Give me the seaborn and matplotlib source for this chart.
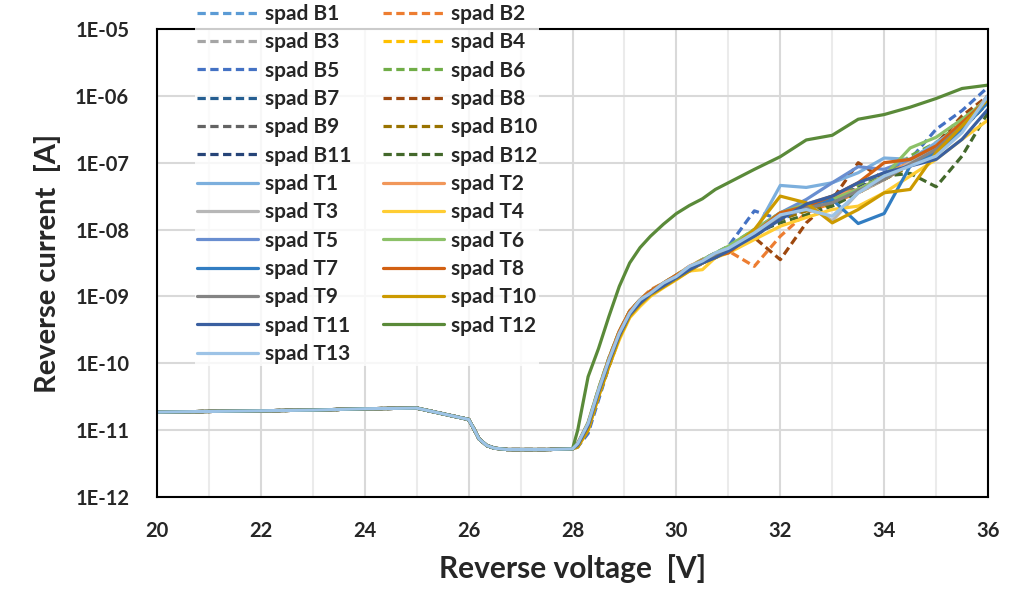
import numpy as np
import pandas as pd
import matplotlib
matplotlib.use("Agg")
import matplotlib.pyplot as plt
import seaborn as sns
from matplotlib.ticker import MultipleLocator, LogLocator, FuncFormatter, NullLocator

sns.set_theme(style="white")
plt.rcParams['font.family'] = ['Lato', 'DejaVu Sans']
plt.rcParams['font.weight'] = 'bold'

# voltage points (V)
V_LOW = [20, 21, 22, 23, 24, 25, 26, 26.1, 26.2, 26.35, 26.5, 26.75, 27, 27.5, 28]
V_HIGH = [28.1, 28.3, 28.5, 28.7, 28.9, 29.1, 29.3, 29.5, 29.75, 30.0, 30.25, 30.5,
          30.75, 31.0, 31.5, 32.0, 32.5, 33.0, 33.5, 34.0, 34.5, 35.0, 35.5, 36.0]

# log10 of reverse current [A]; all devices share the same leakage below breakdown
LOW_LOG = [-10.73, -10.72, -10.71, -10.70, -10.68, -10.67, -10.84, -10.98, -11.13,
           -11.23, -11.27, -11.29, -11.29, -11.29, -11.28]

spad_B1 = [-11.22, -10.95, -10.45, -10.0, -9.6, -9.28, -9.1, -8.95, -8.82, -8.7, -8.58, -8.47, -8.38, -8.28, -8.0, -7.75, -7.65, -7.55, -7.38, -7.2, -6.98, -6.72, -6.4, -6.05]
spad_B2 = [-11.2, -10.9, -10.4, -9.95, -9.55, -9.22, -9.05, -8.9, -8.8, -8.68, -8.55, -8.45, -8.35, -8.32, -8.55, -8.1, -7.75, -7.6, -7.45, -7.25, -7.02, -6.78, -6.42, -6.05]
spad_B3 = [-11.22, -10.95, -10.45, -10.0, -9.58, -9.28, -9.1, -8.97, -8.84, -8.72, -8.6, -8.5, -8.4, -8.3, -8.08, -7.85, -7.7, -7.58, -7.38, -7.2, -6.95, -6.75, -6.42, -6.0]
spad_B4 = [-11.25, -11.0, -10.5, -10.05, -9.62, -9.3, -9.12, -8.98, -8.85, -8.72, -8.6, -8.48, -8.42, -8.32, -8.1, -7.82, -7.72, -7.62, -7.42, -7.25, -7.05, -6.8, -6.5, -6.1]
spad_B5 = [-11.25, -11.05, -10.55, -10.05, -9.6, -9.3, -9.1, -8.95, -8.82, -8.7, -8.58, -8.45, -8.35, -8.25, -7.72, -7.85, -7.7, -7.55, -7.35, -7.15, -6.95, -6.5, -6.22, -5.87]
spad_B6 = [-11.2, -10.9, -10.38, -9.92, -9.52, -9.22, -9.05, -8.92, -8.8, -8.68, -8.56, -8.45, -8.36, -8.25, -8.0, -7.78, -7.62, -7.55, -7.35, -7.2, -6.9, -6.7, -6.4, -6.05]
spad_B7 = [-11.22, -10.92, -10.42, -9.98, -9.58, -9.27, -9.1, -8.96, -8.83, -8.71, -8.6, -8.48, -8.4, -8.3, -8.05, -7.8, -7.65, -7.58, -7.4, -7.22, -7.0, -6.78, -6.45, -6.08]
spad_B8 = [-11.22, -10.95, -10.45, -10.0, -9.6, -9.28, -9.1, -8.97, -8.85, -8.72, -8.62, -8.5, -8.42, -8.32, -8.12, -8.45, -7.9, -7.55, -7.0, -7.25, -7.0, -6.72, -6.3, -6.0]
spad_B9 = [-11.2, -10.92, -10.42, -9.98, -9.57, -9.27, -9.08, -8.95, -8.83, -8.71, -8.6, -8.48, -8.4, -8.3, -8.05, -7.8, -7.7, -7.6, -7.42, -7.25, -7.02, -6.8, -6.47, -6.07]
spad_B10 = [-11.22, -10.93, -10.43, -9.98, -9.58, -9.27, -9.1, -8.96, -8.84, -8.72, -8.6, -8.5, -8.4, -8.3, -8.1, -7.85, -7.72, -7.62, -7.45, -7.25, -7.05, -6.8, -6.45, -6.05]
spad_B11 = [-11.25, -11.0, -10.5, -10.05, -9.62, -9.3, -9.12, -8.98, -8.85, -8.72, -8.6, -8.48, -8.4, -8.3, -8.05, -7.82, -7.65, -7.55, -7.38, -7.2, -7.0, -6.78, -6.5, -6.1]
spad_B12 = [-11.22, -10.95, -10.45, -10.0, -9.58, -9.27, -9.1, -8.96, -8.83, -8.71, -8.6, -8.48, -8.4, -8.3, -8.05, -7.9, -7.78, -7.65, -7.45, -7.2, -7.16, -7.36, -6.9, -6.25]
spad_T1 = [-11.2, -10.92, -10.42, -9.95, -9.55, -9.25, -9.08, -8.95, -8.82, -8.7, -8.58, -8.45, -8.38, -8.28, -8.05, -7.34, -7.37, -7.3, -7.15, -6.93, -6.95, -6.7, -6.45, -6.0]
spad_T2 = [-11.2, -10.9, -10.4, -9.93, -9.53, -9.23, -9.05, -8.92, -8.8, -8.68, -8.55, -8.45, -8.38, -8.28, -8.02, -7.75, -7.62, -7.5, -7.4, -7.2, -6.98, -6.75, -6.4, -6.02]
spad_T3 = [-11.22, -10.95, -10.45, -10.0, -9.6, -9.28, -9.1, -8.97, -8.84, -8.72, -8.6, -8.5, -8.42, -8.32, -8.1, -7.75, -7.6, -7.87, -7.45, -7.25, -7.0, -6.75, -6.45, -6.05]
spad_T4 = [-11.25, -11.0, -10.5, -10.05, -9.65, -9.32, -9.15, -9.0, -8.87, -8.75, -8.62, -8.6, -8.42, -8.35, -8.15, -7.95, -7.82, -7.7, -7.65, -7.45, -7.2, -6.95, -6.65, -6.36]
spad_T5 = [-11.2, -10.9, -10.4, -9.95, -9.55, -9.25, -9.08, -8.94, -8.82, -8.7, -8.58, -8.46, -8.38, -8.28, -8.02, -7.75, -7.55, -7.3, -7.06, -7.1, -6.95, -6.75, -6.42, -6.05]
spad_T6 = [-11.2, -10.88, -10.38, -9.92, -9.52, -9.22, -9.05, -8.92, -8.8, -8.68, -8.56, -8.45, -8.35, -8.25, -8.0, -7.75, -7.62, -7.55, -7.4, -7.2, -6.78, -6.62, -6.35, -6.05]
spad_T7 = [-11.22, -10.93, -10.43, -9.98, -9.58, -9.27, -9.1, -8.96, -8.84, -8.72, -8.6, -8.48, -8.4, -8.3, -8.05, -7.82, -7.65, -7.55, -7.91, -7.76, -7.05, -6.85, -6.5, -6.1]
spad_T8 = [-11.2, -10.9, -10.4, -9.93, -9.52, -9.22, -9.05, -8.92, -8.8, -8.68, -8.57, -8.46, -8.4, -8.35, -8.05, -7.75, -7.65, -7.5, -7.3, -7.0, -6.95, -6.75, -6.4, -6.05]
spad_T9 = [-11.22, -10.93, -10.43, -9.98, -9.58, -9.27, -9.1, -8.96, -8.84, -8.72, -8.6, -8.48, -8.4, -8.3, -8.08, -7.82, -7.68, -7.6, -7.42, -7.25, -7.02, -6.8, -6.45, -6.05]
spad_T10 = [-11.25, -11.0, -10.5, -10.05, -9.62, -9.3, -9.12, -8.98, -8.86, -8.74, -8.62, -8.5, -8.42, -8.32, -8.0, -7.5, -7.6, -7.9, -7.7, -7.45, -7.4, -6.85, -6.45, -6.05]
spad_T11 = [-11.22, -10.93, -10.43, -9.98, -9.58, -9.27, -9.1, -8.96, -8.84, -8.72, -8.6, -8.5, -8.42, -8.32, -8.1, -7.85, -7.62, -7.5, -7.3, -7.15, -7.05, -6.95, -6.65, -6.2]
spad_T12 = [-11.0, -10.2, -9.78, -9.3, -8.85, -8.5, -8.27, -8.1, -7.92, -7.76, -7.64, -7.54, -7.4, -7.3, -7.1, -6.91, -6.66, -6.59, -6.35, -6.28, -6.17, -6.04, -5.89, -5.84]
spad_T13 = [-11.2, -10.9, -10.4, -9.95, -9.55, -9.25, -9.05, -8.95, -8.8, -8.7, -8.55, -8.47, -8.35, -8.28, -8.05, -7.78, -7.7, -7.8, -7.45, -7.2, -7.05, -6.9, -6.55, -6.0]

series = {
    'spad B1': spad_B1, 'spad B2': spad_B2, 'spad B3': spad_B3, 'spad B4': spad_B4,
    'spad B5': spad_B5, 'spad B6': spad_B6, 'spad B7': spad_B7, 'spad B8': spad_B8,
    'spad B9': spad_B9, 'spad B10': spad_B10, 'spad B11': spad_B11, 'spad B12': spad_B12,
    'spad T1': spad_T1, 'spad T2': spad_T2, 'spad T3': spad_T3, 'spad T4': spad_T4,
    'spad T5': spad_T5, 'spad T6': spad_T6, 'spad T7': spad_T7, 'spad T8': spad_T8,
    'spad T9': spad_T9, 'spad T10': spad_T10, 'spad T11': spad_T11, 'spad T12': spad_T12,
    'spad T13': spad_T13,
}

# Office 的默认配色
colors = ['#5B9BD5', '#ED7D31', '#A5A5A5', '#FFC000', '#4472C4', '#70AD47',
          '#255E91', '#9E480E', '#636363', '#997300', '#264478', '#43682B',
          '#7CAFDD', '#F1975A', '#B7B7B7', '#FFCD33', '#698ED0', '#8CC168',
          '#327DC2', '#D26012', '#848484', '#CC9A00', '#3A5FA0', '#5A8A39',
          '#9DC3E6']

frames = []
for name, hi in series.items():
    frames.append(pd.DataFrame({
        'series': name,
        'voltage': V_LOW + V_HIGH,
        'current': 10.0 ** np.array(LOW_LOG + hi),
    }))
df = pd.concat(frames, ignore_index=True)

fig = plt.figure(figsize=(10.11, 5.91), dpi=100)
ax = fig.add_axes([0.1553, 0.159, 0.822, 0.792])

lw = 2.3
for (name, c) in zip(series.keys(), colors):
    sub = df[df['series'] == name]
    ls = '--' if ' B' in name else '-'
    sns.lineplot(data=sub, x='voltage', y='current', ax=ax, color=c, lw=lw,
                 estimator=None, sort=False, label=name, legend=False)
    line = ax.get_lines()[-1]
    line.set_linestyle(ls)
    if ls == '--':
        line.set_dashes((2.6, 1.4))

ax.set_yscale('log')
ax.set_xlim(20, 36)
ax.set_ylim(1e-12, 1e-5)

ax.xaxis.set_major_locator(MultipleLocator(2))
ax.xaxis.set_minor_locator(MultipleLocator(1))
ax.yaxis.set_major_locator(LogLocator(base=10, numticks=10))
ax.yaxis.set_minor_locator(NullLocator())
ax.yaxis.set_major_formatter(FuncFormatter(lambda v, p: "1E%03d" % int(round(np.log10(v)))))

ax.grid(which='major', color='#D9D9D9', lw=1.5)
ax.grid(which='minor', axis='x', color='#EBEBEB', lw=1.5)
ax.set_axisbelow(True)

for s in ax.spines.values():
    s.set_color('black')
    s.set_linewidth(1.5)

ax.tick_params(axis='both', which='major', direction='in', length=6, width=1.2,
               color='black', labelsize=14.5, labelcolor='#262626')
ax.tick_params(axis='y', pad=20)
ax.tick_params(axis='x', pad=17)
ax.tick_params(which='minor', length=0)

ax.set_xlabel('Reverse voltage  [V]', fontsize=21.5, fontweight='bold', color='#262626', labelpad=10)
ax.set_ylabel('Reverse current  [A]', fontsize=21, fontweight='bold', color='#262626', labelpad=10)

# 图例按行排列：两列
lines = ax.get_lines()
names = list(series.keys())
order = list(range(0, 25, 2)) + list(range(1, 25, 2))
handles = [lines[i] for i in order]
labels = [names[i] for i in order]
leg = fig.legend(handles, labels, ncol=2, loc='upper left', bbox_to_anchor=(0.1924, 0.997),
                 fontsize=15, handlelength=2.96, handletextpad=0.32, labelspacing=0.4,
                 columnspacing=1.5, borderpad=0.1, borderaxespad=0, frameon=True,
                 fancybox=False)
leg.get_frame().set_facecolor('white')
leg.get_frame().set_edgecolor('none')
for t in leg.get_texts():
    t.set_color('#262626')
    t.set_fontweight('bold')

fig.savefig('out.png', dpi=100)
